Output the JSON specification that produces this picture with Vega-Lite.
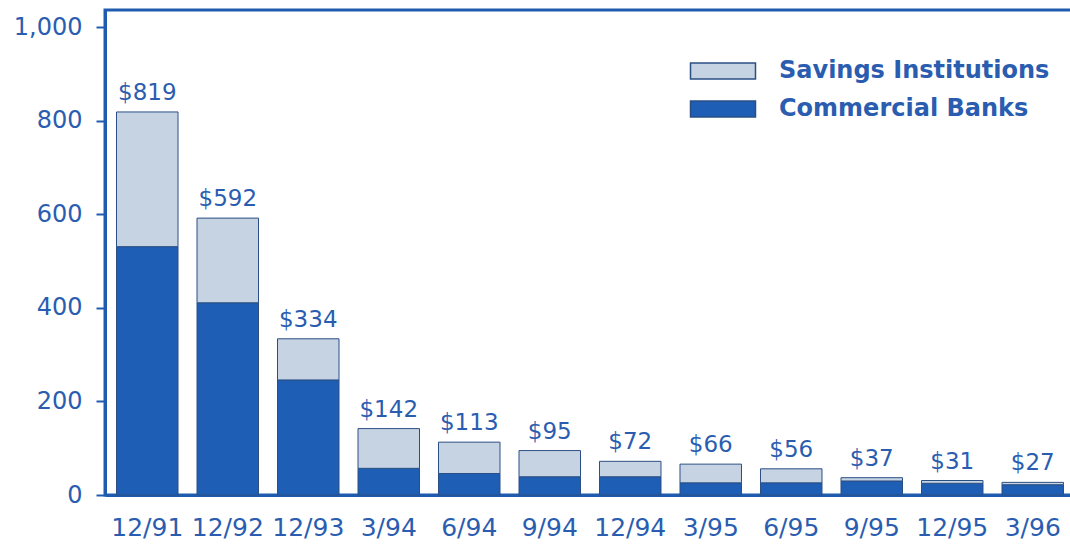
{
  "$schema": "https://vega.github.io/schema/vega-lite/v6.json",
  "width": 970,
  "height": 485,
  "autosize": {"type": "none"},
  "padding": {"left": 105, "top": 10, "right": 0, "bottom": 51},
  "background": "white",
  "config": {"view": {"stroke": "#1f5cb0", "strokeWidth": 3}, "font": "DejaVu Sans"},
  "data": {
    "values": [
      {"date": "12/91", "type": "Commercial Banks", "value": 531},
      {"date": "12/91", "type": "Savings Institutions", "value": 288},
      {"date": "12/92", "type": "Commercial Banks", "value": 411},
      {"date": "12/92", "type": "Savings Institutions", "value": 181},
      {"date": "12/93", "type": "Commercial Banks", "value": 246},
      {"date": "12/93", "type": "Savings Institutions", "value": 88},
      {"date": "3/94", "type": "Commercial Banks", "value": 57},
      {"date": "3/94", "type": "Savings Institutions", "value": 85},
      {"date": "6/94", "type": "Commercial Banks", "value": 46},
      {"date": "6/94", "type": "Savings Institutions", "value": 67},
      {"date": "9/94", "type": "Commercial Banks", "value": 39},
      {"date": "9/94", "type": "Savings Institutions", "value": 56},
      {"date": "12/94", "type": "Commercial Banks", "value": 39},
      {"date": "12/94", "type": "Savings Institutions", "value": 33},
      {"date": "3/95", "type": "Commercial Banks", "value": 26},
      {"date": "3/95", "type": "Savings Institutions", "value": 40},
      {"date": "6/95", "type": "Commercial Banks", "value": 26},
      {"date": "6/95", "type": "Savings Institutions", "value": 30},
      {"date": "9/95", "type": "Commercial Banks", "value": 30},
      {"date": "9/95", "type": "Savings Institutions", "value": 7},
      {"date": "12/95", "type": "Commercial Banks", "value": 25},
      {"date": "12/95", "type": "Savings Institutions", "value": 6},
      {"date": "3/96", "type": "Commercial Banks", "value": 22},
      {"date": "3/96", "type": "Savings Institutions", "value": 5}
    ]
  },
  "layer": [
    {
      "mark": {"type": "bar", "stroke": "#2b4f85", "strokeWidth": 1},
      "encoding": {
        "x": {
          "field": "date",
          "type": "nominal",
          "sort": ["12/91", "12/92", "12/93", "3/94", "6/94", "9/94", "12/94", "3/95", "6/95", "9/95", "12/95", "3/96"],
          "scale": {"paddingInner": 0.236, "paddingOuter": 0.143},
          "axis": {
            "title": null,
            "labelAngle": 0,
            "domainColor": "#1f5cb0",
            "domainWidth": 3,
            "ticks": false,
            "labelFontSize": 25,
            "labelColor": "#2a5db0",
            "labelPadding": 20
          }
        },
        "y": {
          "field": "value",
          "type": "quantitative",
          "stack": "zero",
          "scale": {"domain": [0, 1037], "nice": false},
          "axis": {
            "title": null,
            "grid": false,
            "values": [0, 200, 400, 600, 800, 1000],
            "format": ",d",
            "domainColor": "#1f5cb0",
            "domainWidth": 3,
            "tickColor": "#1f5cb0",
            "tickWidth": 2,
            "tickSize": 9,
            "labelFontSize": 24,
            "labelColor": "#2a5db0",
            "labelPadding": 14
          }
        },
        "color": {
          "field": "type",
          "type": "nominal",
          "scale": {"domain": ["Savings Institutions", "Commercial Banks"], "range": ["#c6d3e3", "#1e5eb4"]},
          "legend": {
            "orient": "none",
            "legendX": 601,
            "legendY": 44,
            "title": null,
            "symbolType": "M-2,-0.5H2V0.5H-2Z",
            "symbolSize": 1056,
            "labelFontSize": 24,
            "labelFontWeight": "bold",
            "labelColor": "#2a5db0",
            "labelOffset": 39,
            "rowPadding": 9,
            "padding": 0,
            "labelLimit": 400
          }
        },
        "order": {"field": "type", "sort": "ascending"}
      }
    },
    {
      "transform": [{"aggregate": [{"op": "sum", "field": "value", "as": "total"}], "groupby": ["date"]}],
      "mark": {"type": "text", "fontSize": 23, "color": "#2a5db0", "baseline": "alphabetic", "dy": -12},
      "encoding": {
        "x": {"field": "date", "type": "nominal", "sort": ["12/91", "12/92", "12/93", "3/94", "6/94", "9/94", "12/94", "3/95", "6/95", "9/95", "12/95", "3/96"]},
        "y": {"field": "total", "type": "quantitative"},
        "text": {"field": "total", "type": "quantitative", "format": "$d"}
      }
    }
  ]
}
